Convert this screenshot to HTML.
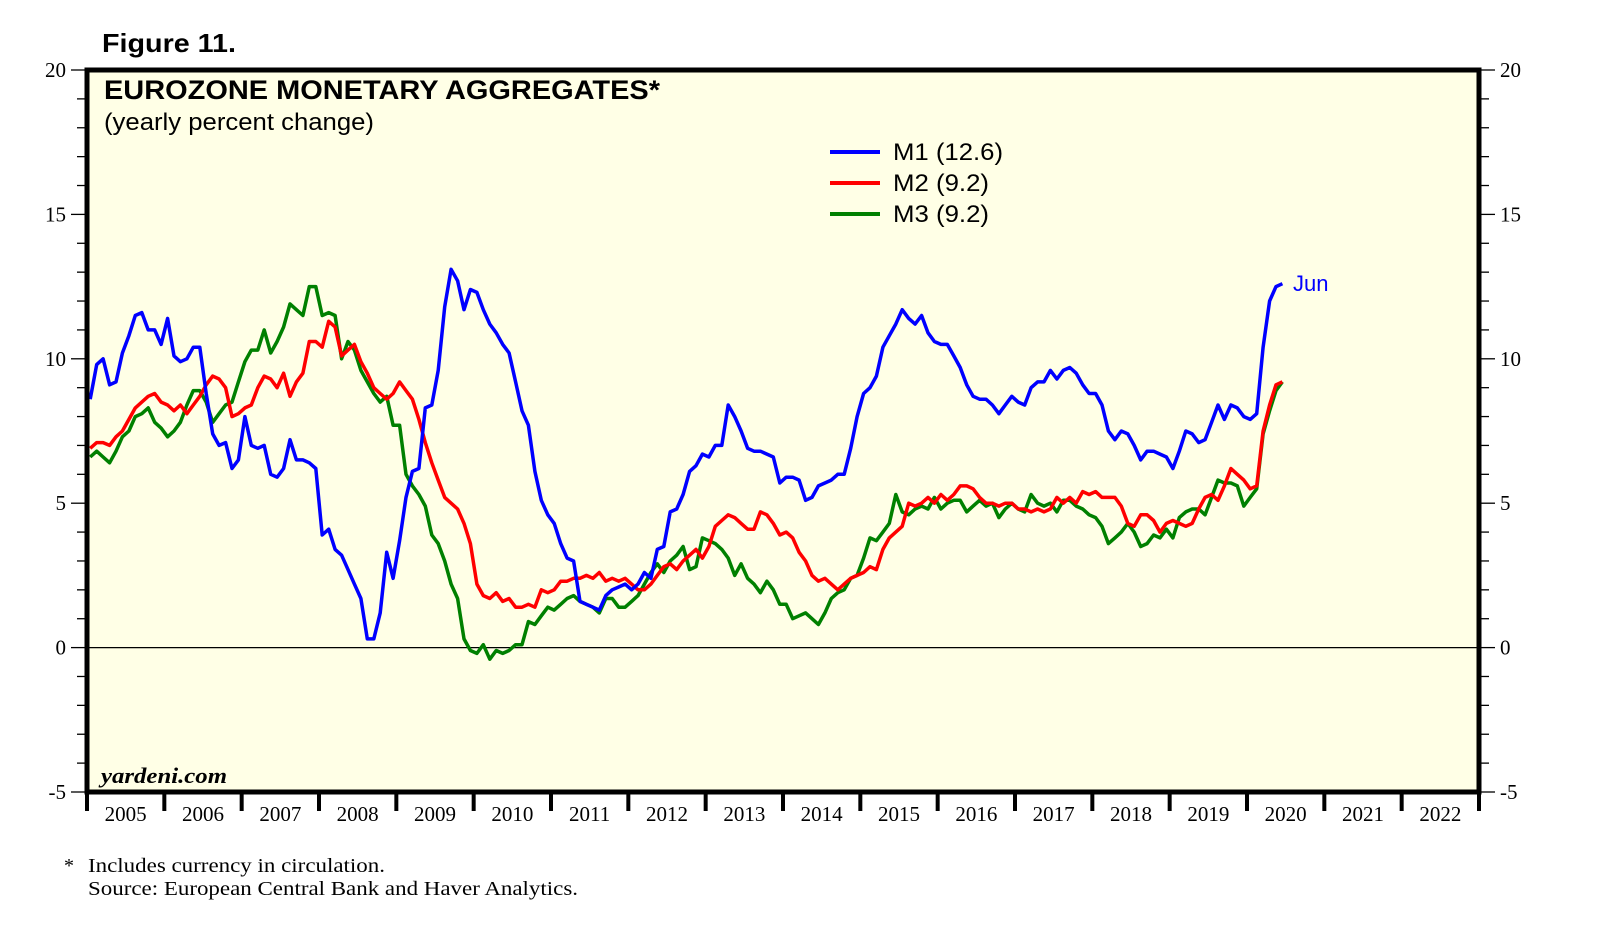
<!DOCTYPE html>
<html><head><meta charset="utf-8"><style>
body{margin:0;background:#fff;}
svg{display:block;}
</style></head><body>
<svg id="chart" width="1610" height="932" viewBox="0 0 1610 932">
<text x="102" y="52" font-family="Liberation Sans, sans-serif" font-weight="bold" font-size="26" textLength="134" lengthAdjust="spacingAndGlyphs">Figure 11.</text>
<rect x="87" y="70" width="1392" height="722" fill="#ffffe6"/>
<g id="ticks"></g>
<g id="series"></g>
<rect x="87" y="70" width="1392" height="722" fill="none" stroke="#000" stroke-width="5"/>
<text x="104" y="99" font-family="Liberation Sans, sans-serif" font-weight="bold" font-size="27" textLength="556" lengthAdjust="spacingAndGlyphs">EUROZONE MONETARY AGGREGATES*</text>
<text x="104" y="130" font-family="Liberation Sans, sans-serif" font-size="24" textLength="270" lengthAdjust="spacingAndGlyphs">(yearly percent change)</text>
<g font-family="Liberation Sans, sans-serif" font-size="24">
<line x1="830" y1="152" x2="880" y2="152" stroke="#0000ff" stroke-width="4"/>
<text x="893" y="160" textLength="110" lengthAdjust="spacingAndGlyphs">M1 (12.6)</text>
<line x1="830" y1="183" x2="880" y2="183" stroke="#ff0000" stroke-width="4"/>
<text x="893" y="191" textLength="96" lengthAdjust="spacingAndGlyphs">M2 (9.2)</text>
<line x1="830" y1="214" x2="880" y2="214" stroke="#008000" stroke-width="4"/>
<text x="893" y="222" textLength="96" lengthAdjust="spacingAndGlyphs">M3 (9.2)</text>
</g>
<text x="1293" y="291" font-family="Liberation Sans, sans-serif" font-size="22" fill="#0000ff">Jun</text>
<text x="101" y="783" font-family="Liberation Serif, serif" font-style="italic" font-weight="bold" font-size="22" textLength="126" lengthAdjust="spacingAndGlyphs">yardeni.com</text>
<g font-family="Liberation Serif, serif" font-size="20">
<text x="64" y="872">*</text>
<text x="88" y="872" textLength="297" lengthAdjust="spacingAndGlyphs">Includes currency in circulation.</text>
<text x="88" y="895" textLength="490" lengthAdjust="spacingAndGlyphs">Source: European Central Bank and Haver Analytics.</text>
</g>
</svg>
<script>
const years = [2005,2006,2007,2008,2009,2010,2011,2012,2013,2014,2015,2016,2017,2018,2019,2020,2021,2022];
const yTicks = [-5,0,5,10,15,20];
const m1 = [8.6,9.8,10.0,9.1,9.2,10.2,10.8,11.5,11.6,11.0,11.0,10.5,
11.4,10.1,9.9,10.0,10.4,10.4,8.8,7.4,7.0,7.1,6.2,6.5,
8.0,7.0,6.9,7.0,6.0,5.9,6.2,7.2,6.5,6.5,6.4,6.2,
3.9,4.1,3.4,3.2,2.7,2.2,1.7,0.3,0.3,1.2,3.3,2.4,
3.7,5.2,6.1,6.2,8.3,8.4,9.6,11.8,13.1,12.7,11.7,12.4,
12.3,11.7,11.2,10.9,10.5,10.2,9.2,8.2,7.7,6.1,5.1,4.6,
4.3,3.6,3.1,3.0,1.6,1.5,1.4,1.3,1.8,2.0,2.1,2.2,
2.0,2.2,2.6,2.4,3.4,3.5,4.7,4.8,5.3,6.1,6.3,6.7,
6.6,7.0,7.0,8.4,8.0,7.5,6.9,6.8,6.8,6.7,6.6,5.7,
5.9,5.9,5.8,5.1,5.2,5.6,5.7,5.8,6.0,6.0,6.9,8.0,
8.8,9.0,9.4,10.4,10.8,11.2,11.7,11.4,11.2,11.5,10.9,10.6,
10.5,10.5,10.1,9.7,9.1,8.7,8.6,8.6,8.4,8.1,8.4,8.7,
8.5,8.4,9.0,9.2,9.2,9.6,9.3,9.6,9.7,9.5,9.1,8.8,
8.8,8.4,7.5,7.2,7.5,7.4,7.0,6.5,6.8,6.8,6.7,6.6,
6.2,6.8,7.5,7.4,7.1,7.2,7.8,8.4,7.9,8.4,8.3,8.0,
7.9,8.1,10.4,12.0,12.5,12.6];
const m2 = [6.9,7.1,7.1,7.0,7.3,7.5,7.9,8.3,8.5,8.7,8.8,8.5,
8.4,8.2,8.4,8.1,8.4,8.7,9.1,9.4,9.3,9.0,8.0,8.1,
8.3,8.4,9.0,9.4,9.3,9.0,9.5,8.7,9.2,9.5,10.6,10.6,
10.4,11.3,11.1,10.1,10.3,10.5,9.9,9.5,9.0,8.8,8.6,8.8,
9.2,8.9,8.6,7.9,7.1,6.4,5.8,5.2,5.0,4.8,4.3,3.6,
2.2,1.8,1.7,1.9,1.6,1.7,1.4,1.4,1.5,1.4,2.0,1.9,
2.0,2.3,2.3,2.4,2.4,2.5,2.4,2.6,2.3,2.4,2.3,2.4,
2.2,2.0,2.0,2.2,2.5,2.8,2.9,2.7,3.0,3.2,3.4,3.1,
3.5,4.2,4.4,4.6,4.5,4.3,4.1,4.1,4.7,4.6,4.3,3.9,
4.0,3.8,3.3,3.0,2.5,2.3,2.4,2.2,2.0,2.2,2.4,2.5,
2.6,2.8,2.7,3.4,3.8,4.0,4.2,5.0,4.9,5.0,5.2,5.0,
5.3,5.1,5.3,5.6,5.6,5.5,5.2,5.0,5.0,4.9,5.0,5.0,
4.8,4.8,4.7,4.8,4.7,4.8,5.2,5.0,5.2,5.0,5.4,5.3,
5.4,5.2,5.2,5.2,4.9,4.3,4.2,4.6,4.6,4.4,4.0,4.3,
4.4,4.3,4.2,4.3,4.8,5.2,5.3,5.1,5.6,6.2,6.0,5.8,
5.5,5.6,7.5,8.4,9.1,9.2];
const m3 = [6.6,6.8,6.6,6.4,6.8,7.3,7.5,8.0,8.1,8.3,7.8,7.6,
7.3,7.5,7.8,8.4,8.9,8.9,8.5,7.8,8.1,8.4,8.5,9.2,
9.9,10.3,10.3,11.0,10.2,10.6,11.1,11.9,11.7,11.5,12.5,12.5,
11.5,11.6,11.5,10.0,10.6,10.3,9.6,9.2,8.8,8.5,8.7,7.7,
7.7,6.0,5.6,5.3,4.9,3.9,3.6,3.0,2.2,1.7,0.3,-0.1,
-0.2,0.1,-0.4,-0.1,-0.2,-0.1,0.1,0.1,0.9,0.8,1.1,1.4,
1.3,1.5,1.7,1.8,1.6,1.5,1.4,1.2,1.7,1.7,1.4,1.4,
1.6,1.8,2.2,2.6,2.9,2.6,3.0,3.2,3.5,2.7,2.8,3.8,
3.7,3.6,3.4,3.1,2.5,2.9,2.4,2.2,1.9,2.3,2.0,1.5,
1.5,1.0,1.1,1.2,1.0,0.8,1.2,1.7,1.9,2.0,2.4,2.5,
3.1,3.8,3.7,4.0,4.3,5.3,4.7,4.6,4.8,4.9,4.8,5.2,
4.8,5.0,5.1,5.1,4.7,4.9,5.1,4.9,5.0,4.5,4.8,5.0,
4.8,4.7,5.3,5.0,4.9,5.0,4.7,5.1,5.1,4.9,4.8,4.6,
4.5,4.2,3.6,3.8,4.0,4.3,4.0,3.5,3.6,3.9,3.8,4.1,
3.8,4.5,4.7,4.8,4.8,4.6,5.2,5.8,5.7,5.7,5.6,4.9,
5.2,5.5,7.4,8.2,8.9,9.2];

const NS='http://www.w3.org/2000/svg';
const L=87,R=1479,T=70,B=792,YMIN=-5,YMAX=20;
const yw=(R-L)/years.length;
function xScale(i){return L+(i+0.5)/12*yw;}
function yScale(v){return B-(v-YMIN)/(YMAX-YMIN)*(B-T);}
function mk(tag,attrs,parent){const e=document.createElementNS(NS,tag);for(const k in attrs)e.setAttribute(k,attrs[k]);parent.appendChild(e);return e;}
const tg=document.getElementById('ticks');
const z=mk('line',{x1:L,x2:R,y1:yScale(0),y2:yScale(0),stroke:'#000','stroke-width':1.3},tg);


for(let v=YMIN;v<=YMAX;v++){
  const y=yScale(v);const major=v%5===0;
  const a=mk('line',{x1:L-(major?16:10),x2:L,y1:y,y2:y,stroke:'#000','stroke-width':1.3},tg);
  
  
  const b=mk('line',{x1:R,x2:R+(major?16:10),y1:y,y2:y,stroke:'#000','stroke-width':1.3},tg);
  
  
}
yTicks.forEach(v=>{
  const y=yScale(v)+7;
  const t1=mk('text',{x:66,y:y,'text-anchor':'end','font-family':'Liberation Serif, serif','font-size':21},tg);
  t1.textContent=v;
  
  
  const t2=mk('text',{x:1500,y:y,'font-family':'Liberation Serif, serif','font-size':21},tg);
  t2.textContent=v;
  
  
});
for(let k=0;k<=years.length;k++){
  const x=L+k*yw;
  const l=mk('line',{x1:x,x2:x,y1:B,y2:B+19,stroke:'#000','stroke-width':4},tg);
  
  
}
years.forEach((yr,k)=>{
  const t=mk('text',{x:L+(k+0.5)*yw,y:B+29,'text-anchor':'middle','font-family':'Liberation Serif, serif','font-size':21},tg);
  t.textContent=yr;
  
  
});
const sg=document.getElementById('series');
[[m3,'#008000','m3-line'],[m2,'#ff0000','m2-line'],[m1,'#0000ff','m1-line']].forEach(([d,c,n])=>{
  const pts=d.map((v,i)=>xScale(i).toFixed(1)+','+yScale(v).toFixed(1)).join(' ');
  const p=mk('polyline',{points:pts,fill:'none',stroke:c,'stroke-width':3.5,'stroke-linejoin':'round'},sg);
  
  
});
</script>
</body></html>
